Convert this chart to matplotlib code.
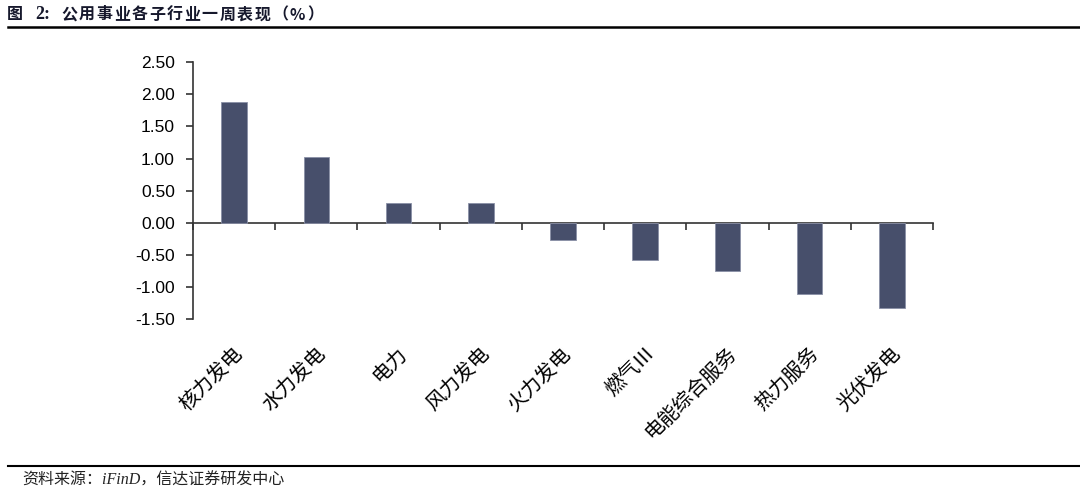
import matplotlib
matplotlib.use("Agg")
import matplotlib.pyplot as plt
import numpy as np
from matplotlib.lines import Line2D
from matplotlib.ticker import FixedLocator, FormatStrFormatter

# data
categories = ["核力发电", "水力发电", "电力", "风力发电", "火力发电",
              "燃气Ⅲ", "电能综合服务", "热力服务", "光伏发电"]
weekly_change = [1.88, 1.03, 0.31, 0.31, -0.27, -0.58, -0.75, -1.10, -1.32]
y_ticks = [2.5, 2.0, 1.5, 1.0, 0.5, 0.0, -0.5, -1.0, -1.5]

title_head = "图"
title_num = "2:"
title_body = "公用事业各子行业一周表现（%）"
source_text = "资料来源：iFinD，信达证券研发中心"

W, H = 1080, 488
plt.rcParams["font.family"] = ["Noto Sans CJK SC", "DejaVu Sans"]

fig = plt.figure(figsize=(W / 100, H / 100), dpi=100)
ax = fig.add_axes([193 / W, 1 - 319.3 / H, 740 / W, 257.1 / H])

x = np.arange(len(categories))
ax.bar(x, weekly_change, width=0.31, color="#474f6b",
       edgecolor="#8a90a6", linewidth=0.6, zorder=3)

ax.set_xlim(-0.5, len(categories) - 0.5)
ax.set_ylim(-1.5, 2.5)

# y axis
ax.yaxis.set_major_locator(FixedLocator(y_ticks))
ax.yaxis.set_major_formatter(FormatStrFormatter("%.2f"))
ax.tick_params(axis="y", direction="out", length=5, width=1.2, pad=8,
               colors="#333333", labelcolor="black")
for lab in ax.get_yticklabels():
    lab.set_fontfamily("Liberation Sans")
    lab.set_fontsize(12.5)

# x axis sits on zero, ticks at category boundaries
ax.spines["bottom"].set_position(("data", 0))
ax.spines["bottom"].set_color("#333333")
ax.spines["bottom"].set_linewidth(1.2)
ax.spines["left"].set_color("#333333")
ax.spines["left"].set_linewidth(1.2)
ax.spines["top"].set_visible(False)
ax.spines["right"].set_visible(False)
ax.set_xticks(np.arange(len(categories) + 1) - 0.5)
ax.set_xticklabels([])
ax.tick_params(axis="x", direction="out", length=5, width=1.2, colors="#333333")

# category labels, rotated, below the plot area
for i, name in enumerate(categories):
    ax.annotate(name, xy=(i, 0), xycoords=("data", "axes fraction"),
                xytext=(-1, -17), textcoords="offset points",
                rotation=45, ha="right", va="top", rotation_mode="anchor",
                fontsize=14.5, color="black")

# header: wide letter spacing, so place glyph by glyph
title_color = "#16182c"
ty = 1 - 14.5 / H
fig.text(7 / W, ty, title_head, fontsize=11.5, fontweight="bold",
         ha="left", va="center", color=title_color)
fig.text(35 / W, ty, title_num, fontsize=13, fontweight="bold",
         family="Liberation Serif", ha="left", va="center", color=title_color)
pitch = 17.6
for k, ch in enumerate(title_body):
    fig.text((61 + k * pitch) / W, ty, ch, fontsize=11.5, fontweight="bold",
             ha="left", va="center", color=title_color)

fig.add_artist(Line2D([8 / W, 1], [1 - 27 / H, 1 - 27 / H],
                      color="black", linewidth=1.8, transform=fig.transFigure))
fig.add_artist(Line2D([8 / W, 1], [1 - 466 / H, 1 - 466 / H],
                      color="black", linewidth=1.5, transform=fig.transFigure))
fig.text(22 / W, 1 - 481 / H, source_text, fontsize=11.5, style="italic",
         family=["Liberation Serif", "Noto Sans CJK SC"],
         ha="left", va="center", color="#222222")

fig.savefig("out.png", dpi=100)
